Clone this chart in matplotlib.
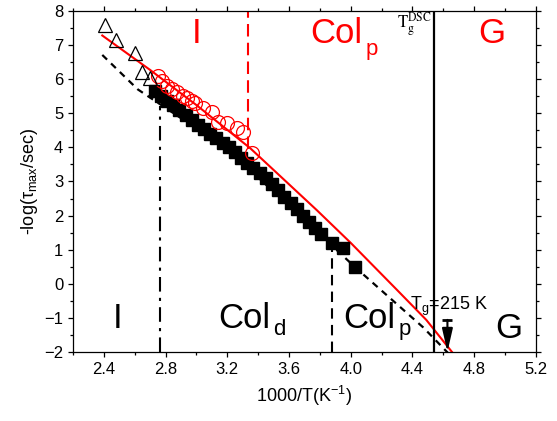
import matplotlib
matplotlib.use('Agg')
import matplotlib.pyplot as plt
from matplotlib.ticker import MultipleLocator

plt.rcParams['font.family'] = ['Liberation Sans', 'DejaVu Sans']
plt.rcParams['mathtext.fontset'] = 'custom'
plt.rcParams['mathtext.rm'] = 'Liberation Sans'
plt.rcParams['mathtext.it'] = 'Liberation Sans:italic'
plt.rcParams['mathtext.bf'] = 'Liberation Sans:bold'

# values
tri_x = [2.41, 2.48, 2.60, 2.645, 2.70]
tri_y = [7.59, 7.15, 6.76, 6.22, 6.03]

circ_x = [2.753, 2.78, 2.808, 2.84, 2.876, 2.91, 2.937, 2.97, 2.991, 3.045,
          3.10, 3.142, 3.197, 3.262, 3.304, 3.359]
circ_y = [6.09, 5.95, 5.80, 5.72, 5.63, 5.52, 5.44, 5.36, 5.29, 5.15,
          5.05, 4.75, 4.72, 4.56, 4.46, 3.83]

sq_x = [2.73, 2.77, 2.81, 2.85, 2.89, 2.93, 2.97, 3.01, 3.05, 3.09, 3.13, 3.17,
        3.21, 3.25, 3.29, 3.33, 3.37, 3.41, 3.45, 3.49, 3.53, 3.57, 3.61, 3.65,
        3.69, 3.73, 3.77, 3.81, 3.88, 3.95, 4.03]
sq_y = [5.65, 5.51, 5.37, 5.23, 5.09, 4.95, 4.81, 4.67, 4.53, 4.39, 4.26, 4.12,
        4.00, 3.85, 3.70, 3.55, 3.39, 3.24, 3.09, 2.92, 2.74, 2.55, 2.37, 2.18,
        2.00, 1.81, 1.63, 1.45, 1.20, 1.05, 0.48]

# fit curves
red_fit_x = [2.39, 2.70, 3.00, 3.35, 3.78, 4.00, 4.30, 4.49, 4.66]
red_fit_y = [7.28, 6.27, 5.24, 3.97, 2.16, 1.20, -0.18, -1.06, -2.02]
blk_fit_x = [2.39, 2.62, 3.20, 3.80, 4.03, 4.31, 4.47, 4.635]
blk_fit_y = [6.71, 5.70, 3.95, 1.45, 0.48, -0.64, -1.28, -2.05]

# phase boundaries
x_iso_cold = 2.764   # I -> Col_d (lower)
x_iso_hot = 3.335    # I -> Col_p (upper)
x_col = 3.877        # Col_d -> Col_p
x_tg_dsc = 4.541
x_tg = 4.627

fig = plt.figure(figsize=(5.57, 4.21), dpi=100)
ax = fig.add_axes([0.131, 0.164, 0.831, 0.810])

ax.plot(red_fit_x, red_fit_y, color='red', lw=1.5, zorder=2)
ax.plot(blk_fit_x, blk_fit_y, color='black', lw=1.6, ls=(0, (3, 2.5)), zorder=1)

ax.plot(sq_x, sq_y, ls='none', marker='s', ms=8.5, color='black', zorder=3)
ax.plot(circ_x, circ_y, ls='none', marker='o', ms=10, mfc='none', mec='red',
        mew=0.9, zorder=4)
ax.plot(tri_x, tri_y, ls='none', marker='^', ms=10.5, mfc='none', mec='black',
        mew=0.9, zorder=4)

ax.plot([x_iso_hot, x_iso_hot], [3.95, 8], color='red', lw=1.5, ls=(0, (6, 3)))
ax.plot([x_iso_cold, x_iso_cold], [-2, 5.2], color='black', lw=1.5,
        ls=(0, (7, 3, 1.5, 3)))
ax.plot([x_col, x_col], [-2, 1.0], color='black', lw=1.5, ls=(0, (5, 3)))
ax.axvline(x_tg_dsc, color='black', lw=1.6)

ax.annotate('', xy=(x_tg, -2.0), xytext=(x_tg, -1.06),
            arrowprops=dict(arrowstyle='-|>,head_length=1.4,head_width=0.32',
                            mutation_scale=10, color='black', lw=1.5,
                            shrinkA=0, shrinkB=0))
ax.plot([x_tg], [-1.06], marker='_', ms=7, mew=2, color='black')

# phase labels
big = 25
sub = 16
ax.text(3.004, 7.07, 'I', color='red', fontsize=big, ha='center')
ax.text(3.741, 7.07, 'Col', color='red', fontsize=big)
ax.text(4.094, 6.71, 'p', color='red', fontsize=sub)
ax.text(4.914, 7.07, 'G', color='red', fontsize=big, ha='center')
ax.text(4.30, 7.5, r'$\mathrm{T}_\mathrm{g}^\mathrm{DSC}$', fontsize=12,
        family='Liberation Serif', math_fontfamily='stix')

ax.text(2.489, -1.30, 'I', fontsize=big, ha='center')
ax.text(3.14, -1.30, 'Col', fontsize=big)
ax.text(3.497, -1.50, 'd', fontsize=sub)
ax.text(3.951, -1.30, 'Col', fontsize=big)
ax.text(4.308, -1.49, 'p', fontsize=sub)
ax.text(4.937, -1.59, 'G', fontsize=big)
ax.text(4.385, -0.77, r'T$_\mathrm{g}$=215 K', fontsize=13)

ax.set_xlim(2.2, 5.2)
ax.set_ylim(-2, 8)
ax.xaxis.set_minor_locator(MultipleLocator(0.2))
ax.yaxis.set_major_locator(MultipleLocator(1))
ax.yaxis.set_minor_locator(MultipleLocator(0.5))
ax.set_xticks([2.4, 2.8, 3.2, 3.6, 4.0, 4.4, 4.8, 5.2])
ax.set_xticklabels(['2.4', '2.8', '3.2', '3.6', '4.0', '4.4', '4.8', '5.2'])
ax.tick_params(which='both', direction='out', labelsize=12, width=0.9)
ax.tick_params(which='major', length=3.5)
ax.tick_params(which='minor', length=2.5)
ax.tick_params(which='both', top=True, right=True)
for s in ax.spines.values():
    s.set_linewidth(0.9)

ax.set_xlabel(r'1000/T(K$^{\mathrm{-1}}$)', fontsize=13, labelpad=5)
ax.set_ylabel(r'-log($\mathrm{\tau}_\mathrm{max}$/sec)', fontsize=13, labelpad=3)

fig.savefig('out.png', dpi=100)
